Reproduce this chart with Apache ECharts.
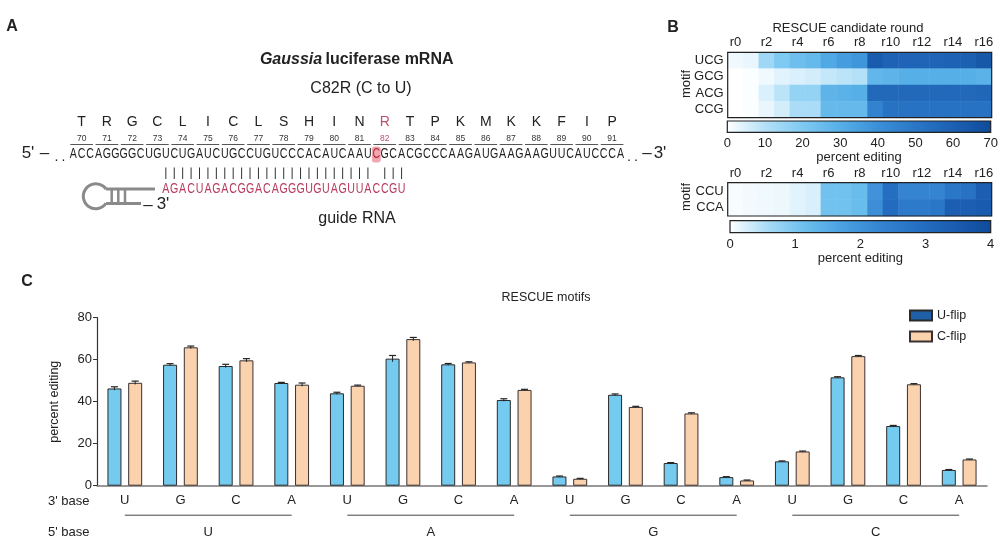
<!DOCTYPE html>
<html><head><meta charset="utf-8">
<script src="https://cdn.jsdelivr.net/npm/echarts@6/dist/echarts.min.js"></script>
<style>html,body{margin:0;padding:0;background:#fff}#c{width:1004px;height:546px}</style>
</head><body><div id="c"></div>
<script>
// ---------- DATA ----------
const threePrime = ['U','G','C','A','U','G','C','A','U','G','C','A','U','G','C','A'];
const fivePrime = ['U','A','G','C'];
const uFlip = [46.3,57.6,57.0,48.9, 44.0,60.5,57.8,40.8, 4.4,43.3,10.8,4.1, 11.6,51.6,28.4,7.5];
const cFlip = [49.0,65.9,59.7,48.1, 47.6,69.8,58.7,45.6, 3.3,37.5,34.4,2.5, 16.3,61.7,48.3,12.5];
const uFlipErr = [0.8,0.5,0.8,0.3, 0.5,1.5,0.4,0.6, 0.2,0.4,0.2,0.2, 0.2,0.3,0.3,0.2];
const cFlipErr = [0.8,0.6,0.8,0.8, 0.3,0.8,0.3,0.3, 0.2,0.3,0.3,0.2, 0.2,0.3,0.3,0.2];
const yTicks = [0,20,40,60,80];

const rounds = ['r0','r1','r2','r3','r4','r5','r6','r7','r8','r9','r10','r11','r12','r13','r14','r15','r16'];
const motifsA = ['UCG','GCG','ACG','CCG'];
const motifsB = ['CCU','CCA'];
const heatUCG = [2,3,14,20,24,26,32,36,38,62,59,58,58,58,59,60,64];
const heatGCG = [0,0.5,2,4,5,6,8,9,10,27,28,30,30,30,30,30,29];
const heatACG = [0,0.5,5,9,16,16,28,29,30,56,56,56,56,56,56,56,57];
const heatCCG = [0,0.5,3,6,12,12,26,26,26,45,52,52,52,52,52,52,52];
const heatCCU = [0.05,0.08,0.1,0.12,0.2,0.25,1.1,1.1,1.2,2.0,2.9,2.3,2.3,2.3,2.7,2.8,3.4];
const heatCCA = [0.05,0.08,0.1,0.12,0.2,0.25,1.1,1.1,1.2,2.1,3.0,2.6,2.6,2.7,3.4,3.4,3.5];

const mrna = 'ACCAGGGGCUGUCUGAUCUGCCUGUCCCACAUCAAUCGCACGCCCAAGAUGAAGAAGUUCAUCCCA';
const guide = 'AGACUAGACGGACAGGGUGUAGUUACCGU';
const aminoAcids = ['T','R','G','C','L','I','C','L','S','H','I','N','R','T','P','K','M','K','K','F','I','P'];
const codonNums = [70,71,72,73,74,75,76,77,78,79,80,81,82,83,84,85,86,87,88,89,90,91];
const guideStart = 11, editedBase = 36, editedCodon = 12;

// ---------- STYLE / LAYOUT ----------
const FF = '"Liberation Sans", Arial, Helvetica, sans-serif';
const BLUE = '#74CBEF', TAN = '#FBD2AE', LEG_BLUE = '#1F5FA8';
const BAR_W = 14, BAR_GAP = 0.48;
const OFF = (BAR_W + BAR_W * BAR_GAP) / 2;
const HM_A_COLORS = ['#ffffff','#b5e1f8','#7fcaf2','#56afe7','#3a90d8','#2a76c6','#1c60b2','#0f4b9b'];
const HM_B_COLORS = ['#ffffff','#a9dcf7','#6cc0ee','#4aa1e2','#3585d2','#2670c3','#1a5db1','#0f4b9b'];
const GB = {left:97, top:317.7, width:890, height:168};
const HA = {left:727.7, top:52.3, width:264, height:65.4};
const CA = {left:727.3, top:121, width:263.4, height:11.3};
const HB = {left:727.7, top:182.7, width:264, height:33.3};
const CB = {left:730, top:220.7, width:260.7, height:12};

function stops(cols){ return cols.map((c,i)=>({offset:i/(cols.length-1), color:c})); }

const catKeys = threePrime.map((b,i)=> fivePrime[Math.floor(i/4)] + '-' + b + '-' + i);

function heatData(rows){
  const d = [];
  rows.forEach((r,ri)=> r.forEach((v,ci)=> d.push([ci, ri, v])));
  return d;
}

// ---------- GRAPHIC (panel A + labels) ----------
const G = [];
function T(x,y,text,size,opt){
  opt = opt || {};
  G.push({type:'text', x:x, y:y, z:100, rotation:opt.rot||0, scaleX:opt.sx||1,
    style:{text:text, x:0, y:0, fill:opt.color||'#222',
      font:(opt.style||'') + ' ' + (opt.weight||'normal') + ' ' + size + 'px ' + FF,
      textAlign:opt.align||'center', align:opt.align||'center',
      textVerticalAlign:'middle', verticalAlign:'middle'}});
}
function L(x1,y1,x2,y2,color,w){
  G.push({type:'line', z:100, shape:{x1,y1,x2,y2}, style:{stroke:color, lineWidth:w}});
}
// panel letters
T(12,27,'A',16,{weight:'bold'});
T(673,27.5,'B',16,{weight:'bold'});
T(27,281.5,'C',16,{weight:'bold'});
// titles panel A
G.push({type:'text', x:356.7, y:59.5, z:100, style:{
  text:'{i|Gaussia} {b|luciferase mRNA}', textAlign:'center', align:'center',
  textVerticalAlign:'middle', verticalAlign:'middle',
  rich:{i:{font:'italic bold 16px '+FF, fill:'#222'}, b:{font:'bold 16px '+FF, fill:'#222'}}}});
T(361,88.5,'C82R (C to U)',16);
T(357,218.5,'guide RNA',16);
// sequence geometry
const SX0 = 69, SDX = 8.42, SQX = 0.76;
const cx = i => SX0 + SDX*(i+0.5);
// highlight
G.push({type:'rect', z:99, shape:{x:cx(editedBase)-4.5, y:146.5, width:9, height:16, r:3}, style:{fill:'#F2A7B0'}});
for (let i=0;i<mrna.length;i++){
  T(cx(i),154.5,mrna[i],14,{sx:SQX, color: i===editedBase ? '#B0283F' : '#222'});
}
aminoAcids.forEach((a,k)=>{
  const c = cx(3*k+1);
  const red = k===editedCodon;
  T(c,121.7,a,14,{color: red ? '#C0506A' : '#222'});
  T(c,138.2,String(codonNums[k]),8.5,{color: red ? '#C0506A' : '#333'});
  L(SX0+SDX*3*k+1.3,144.5,SX0+SDX*(3*k+3)-1.3,144.5,'#444',0.9);
});
// ends
T(28,153,"5'",17);
T(44.5,153,'–',17);
T(56.5,157,'.',14); T(63.5,157,'.',14);
T(629,157,'.',14); T(636,157,'.',14);
T(647,153,'–',17);
T(660,153,"3'",17);
// pairing bars and guide
for (let j=0;j<guide.length;j++){
  const idx = guideStart + j;
  if (idx !== editedBase) L(cx(idx),167.5,cx(idx),179,'#333',1);
  T(cx(idx),189.5,guide[j],14,{sx:SQX, color:'#B8385E'});
}
// hairpin
G.push({type:'arc', z:100, shape:{cx:95.8, cy:196.25, r:12.5, startAngle:0.618, endAngle:2*Math.PI-0.618, clockwise:true},
  style:{stroke:'#8a8a8a', lineWidth:3, fill:null}});
L(106,189,155,189,'#8a8a8a',3);
L(106,203.5,141,203.5,'#8a8a8a',3);
[111.7,118.3,125].forEach(x=>L(x,189,x,203.5,'#8a8a8a',2.5));
T(148,205,'–',17);
T(163,204,"3'",17);

// panel B labels
T(848,28,'RESCUE candidate round',13);
T(686.5,84,'motif',13,{rot:Math.PI/2});
T(686.5,197,'motif',13,{rot:Math.PI/2});
// borders / colorbars
[HA,HB].forEach(b=>G.push({type:'rect', z:100, shape:{x:b.left,y:b.top,width:b.width,height:b.height}, style:{fill:null, stroke:'#222', lineWidth:1.2}}));
G.push({type:'rect', z:90, shape:{x:CA.left,y:CA.top,width:CA.width,height:CA.height},
  style:{stroke:'#222', lineWidth:1.2, fill:new echarts.graphic.LinearGradient(0,0,1,0,stops(HM_A_COLORS))}});
G.push({type:'rect', z:90, shape:{x:CB.left,y:CB.top,width:CB.width,height:CB.height},
  style:{stroke:'#222', lineWidth:1.2, fill:new echarts.graphic.LinearGradient(0,0,1,0,stops(HM_B_COLORS))}});
// panel C labels
T(546,298,'RESCUE motifs',12.5);
T(48,501.5,"3' base",13,{align:'left'});
T(48,532,"5' base",13,{align:'left'});

// ---------- OPTION ----------
const axisTxt = {color:'#222', fontFamily:FF, fontSize:13};
function errSeries(name, vals, errs, off){
  return {type:'custom', name:name+'-err', xAxisIndex:0, yAxisIndex:0, z:5,
    data: vals.map((v,i)=>[i, v, errs[i]]),
    encode:{x:0, y:1},
    renderItem:(p, api)=>{
      const x = api.value(0), v = api.value(1), e = api.value(2);
      const t = api.coord([x, v+e]), b = api.coord([x, v-e]);
      const X = t[0] + off;
      return {type:'group', children:[
        {type:'line', shape:{x1:X,y1:t[1],x2:X,y2:b[1]}, style:{stroke:'#222', lineWidth:1}},
        {type:'line', shape:{x1:X-3.5,y1:t[1],x2:X+3.5,y2:t[1]}, style:{stroke:'#222', lineWidth:1.2}}
      ]};
    }};
}

const option = {
  backgroundColor:'#fff',
  animation:false,
  textStyle:{fontFamily:FF},
  grid:[
    Object.assign({}, GB),
    Object.assign({}, HA),
    Object.assign({}, CA),
    Object.assign({}, HB),
    Object.assign({}, CB)
  ],
  legend:{
    left:904, top:304, orient:'vertical', itemWidth:22, itemHeight:10, itemGap:8, icon:'rect',
    textStyle:{color:'#222', fontSize:12.5, fontFamily:FF},
    data:[{name:'U-flip', itemStyle:{color:LEG_BLUE}}, {name:'C-flip'}]
  },
  visualMap:[
    {type:'continuous', show:false, seriesIndex:5, min:0, max:70, inRange:{color:HM_A_COLORS}},
    {type:'continuous', show:false, seriesIndex:6, min:0, max:4, inRange:{color:HM_B_COLORS}}
  ],
  xAxis:[
    {gridIndex:0, type:'category', data:catKeys,
      axisLine:{lineStyle:{color:'#777', width:1.5}},
      axisTick:{alignWithLabel:true, length:5, lineStyle:{color:'#333'}},
      axisLabel:Object.assign({margin:8, interval:0, formatter:(v,i)=>threePrime[i]}, axisTxt)},
    {gridIndex:1, type:'category', data:rounds, position:'top',
      axisLine:{show:false}, axisTick:{show:false},
      axisLabel:Object.assign({interval:1, margin:3}, axisTxt)},
    {gridIndex:2, type:'value', min:0, max:70, interval:10, position:'bottom',
      axisLine:{show:false}, axisTick:{show:false}, splitLine:{show:false},
      axisLabel:Object.assign({margin:5}, axisTxt),
      name:'percent editing', nameLocation:'middle', nameGap:19, nameTextStyle:Object.assign({verticalAlign:'top'}, axisTxt)},
    {gridIndex:2, type:'value', min:0, max:70, interval:10, position:'top',
      axisLine:{show:false}, axisLabel:{show:false}, splitLine:{show:false},
      axisTick:{inside:true, length:3, lineStyle:{color:'#222'}}},
    {gridIndex:3, type:'category', data:rounds, position:'top',
      axisLine:{show:false}, axisTick:{show:false},
      axisLabel:Object.assign({interval:1, margin:3}, axisTxt)},
    {gridIndex:4, type:'value', min:0, max:4, interval:1, position:'bottom',
      axisLine:{show:false}, axisTick:{show:false}, splitLine:{show:false},
      axisLabel:Object.assign({margin:5}, axisTxt),
      name:'percent editing', nameLocation:'middle', nameGap:19, nameTextStyle:Object.assign({verticalAlign:'top'}, axisTxt)},
    {gridIndex:4, type:'value', min:0, max:4, interval:1, position:'top',
      axisLine:{show:false}, axisLabel:{show:false}, splitLine:{show:false},
      axisTick:{inside:true, length:3, lineStyle:{color:'#222'}}}
  ],
  yAxis:[
    {gridIndex:0, type:'value', min:yTicks[0], max:yTicks[yTicks.length-1], interval:20,
      axisLine:{show:true, lineStyle:{color:'#333', width:1.2}},
      axisTick:{show:true, length:4, lineStyle:{color:'#333'}},
      splitLine:{show:false},
      axisLabel:Object.assign({margin:5}, axisTxt),
      name:'percent editing', nameLocation:'middle', nameGap:36, nameRotate:90,
      nameTextStyle:{color:'#222', fontFamily:FF, fontSize:12.5}},
    {gridIndex:1, type:'category', data:motifsA, inverse:true,
      axisLine:{show:false}, axisTick:{show:false}, axisLabel:Object.assign({margin:4, interval:0}, axisTxt)},
    {gridIndex:2, type:'value', min:0, max:1, show:false},
    {gridIndex:3, type:'category', data:motifsB, inverse:true,
      axisLine:{show:false}, axisTick:{show:false}, axisLabel:Object.assign({margin:4, interval:0}, axisTxt)},
    {gridIndex:4, type:'value', min:0, max:1, show:false}
  ],
  series:[
    {type:'bar', name:'U-flip', xAxisIndex:0, yAxisIndex:0, data:uFlip, barWidth:BAR_W, barGap:(BAR_GAP*100)+'%',
      itemStyle:{color:BLUE, borderColor:'#2a2a2a', borderWidth:1}},
    {type:'bar', name:'C-flip', xAxisIndex:0, yAxisIndex:0, data:cFlip, barWidth:BAR_W, barGap:(BAR_GAP*100)+'%',
      itemStyle:{color:TAN, borderColor:'#3a3030', borderWidth:1}},
    errSeries('U-flip', uFlip, uFlipErr, -OFF),
    errSeries('C-flip', cFlip, cFlipErr, OFF),
    {type:'custom', name:'groups', xAxisIndex:0, yAxisIndex:0, clip:false, z:5,
      data: fivePrime.map((g,i)=>[i*4, i*4+3, 0]),
      encode:{x:[0,1], y:2},
      renderItem:(p, api)=>{
        const a = api.coord([api.value(0), 0]), b = api.coord([api.value(1), 0]);
        const y = a[1];
        return {type:'group', children:[
          {type:'line', shape:{x1:a[0], y1:y+29.5, x2:b[0], y2:y+29.5}, style:{stroke:'#444', lineWidth:1}},
          {type:'text', x:(a[0]+b[0])/2, y:y+46.3, style:{text:fivePrime[p.dataIndex], textAlign:'center', align:'center',
            textVerticalAlign:'middle', verticalAlign:'middle', fill:'#222', font:'13px '+FF}}
        ]};
      }},
    {type:'heatmap', xAxisIndex:1, yAxisIndex:1, data:heatData([heatUCG,heatGCG,heatACG,heatCCG])},
    {type:'heatmap', xAxisIndex:4, yAxisIndex:3, data:heatData([heatCCU,heatCCA])}
  ],
  graphic:{elements:G}
};
const chart = echarts.init(document.getElementById('c'), null, {renderer:'canvas'});
chart.setOption(option);
</script></body></html>
